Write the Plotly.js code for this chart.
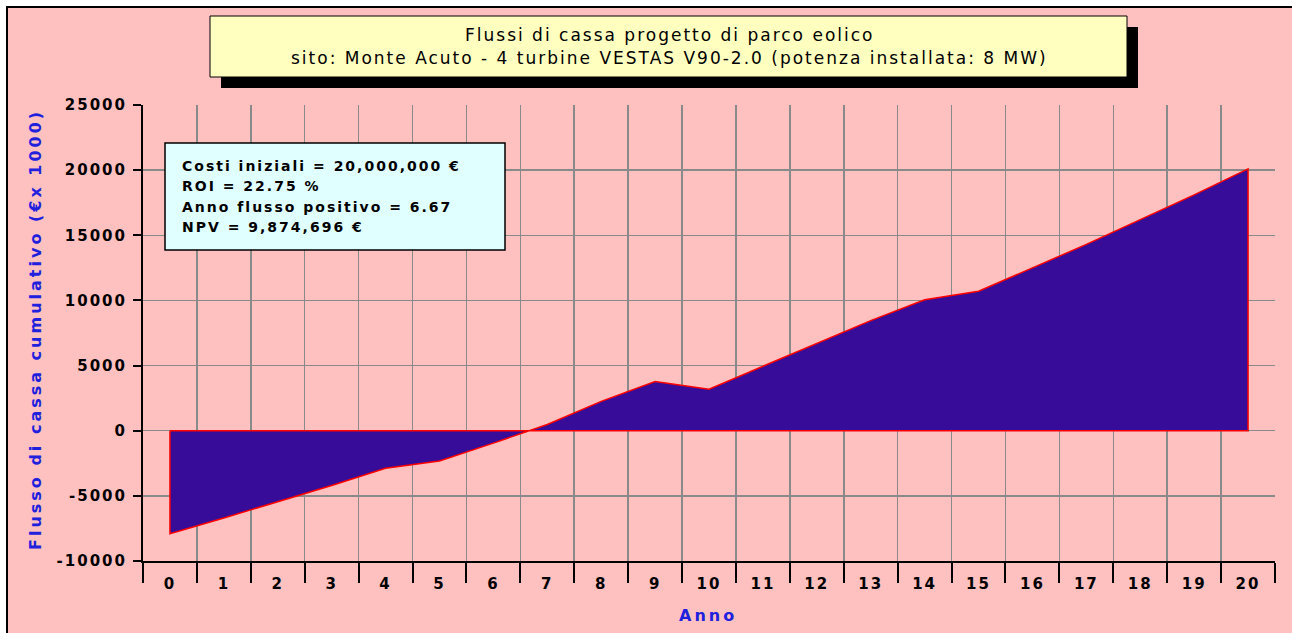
<!DOCTYPE html>
<html>
<head>
<meta charset="utf-8">
<script src="https://cdn.plot.ly/plotly-3.0.1.min.js"></script>
<style>
  html, body { margin: 0; padding: 0; background: #ffffff; }
  #chart { width: 1292px; height: 633px; }
  .xtick text, .ytick text { letter-spacing: 2px; }
  .annotation text { letter-spacing: 2px; }
  .annotation[data-index="0"] text, .annotation[data-index="1"] text { letter-spacing: 2px; }
  .annotation[data-index="6"] text, .annotation[data-index="7"] text { letter-spacing: 3px; }
</style>
</head>
<body>
<div id="chart"></div>
<script>
// ---- data ----
const years = [0, 1, 2, 3, 4, 5, 6, 7, 8, 9, 10, 11, 12, 13, 14, 15, 16, 17, 18, 19, 20];
const cumulativeCashFlow = [-7900, -6700, -5480, -4200, -2880, -2320, -950, 480, 2250, 3780, 3190,
                            4950, 6700, 8450, 10050, 10700, 12500, 14300, 16200, 18100, 20100];
const yTickValues = [-10000, -5000, 0, 5000, 10000, 15000, 20000, 25000];
const xTickLabels = years.map(String);
const titleLines = ["Flussi di cassa progetto di parco eolico",
                    "sito: Monte Acuto - 4 turbine VESTAS V90-2.0 (potenza installata: 8 MW)"];
const infoLines = ["Costi iniziali = 20,000,000 €", "ROI = 22.75 %",
                   "Anno flusso positivo = 6.67", "NPV = 9,874,696 €"];
const xTitle = "Anno";
const yTitle = "Flusso di cassa cumulativo (€x 1000)";

// ---- geometry helpers (pixel -> paper) ----
const W = 1292, H = 633, L = 143, R = 17, T = 105, B = 72;
const pw = W - L - R, ph = H - T - B;
const px = p => (p - L) / pw;
const py = p => (H - B - p) / ph;

const FONT = "DejaVu Sans, Verdana, sans-serif";
const BLUE = "#2020dd";
const GRID = "#8a8a8a";

// polygon closing the area to zero (Excel area chart outline)
const polyX = [years[0]].concat(years, [years[years.length - 1], years[0]]);
const polyY = [0].concat(cumulativeCashFlow, [0, 0]);

const trace = {
  type: "scatter",
  mode: "lines",
  x: polyX,
  y: polyY,
  fill: "toself",
  fillcolor: "#360c98",
  line: { color: "#ff0000", width: 1.5 },
  hoverinfo: "skip",
  showlegend: false
};

const boundaries = years.map(v => v - 0.5).concat([years[years.length - 1] + 0.5]);

const infoY = [165.5, 186, 206.5, 227];

const layout = {
  width: W, height: H,
  autosize: false,
  margin: { l: L, r: R, t: T, b: B, pad: 0 },
  paper_bgcolor: "#ffc0c0",
  plot_bgcolor: "#ffc0c0",
  showlegend: false,
  font: { family: FONT, color: "#000" },
  xaxis: {
    range: [-0.5, 20.5],
    tickmode: "array",
    tickvals: years,
    ticktext: xTickLabels,
    ticks: "outside",
    ticklen: 8,
    tickcolor: "rgba(0,0,0,0)",
    showgrid: false,
    zeroline: false,
    showline: true,
    linecolor: "#000",
    linewidth: 2,
    tickfont: { family: FONT, size: 15, color: "#000", weight: "bold" },
    minor: {
      tickmode: "array",
      tickvals: boundaries,
      ticks: "outside",
      ticklen: 20,
      tickwidth: 2,
      tickcolor: "#000",
      showgrid: true,
      gridcolor: GRID,
      gridwidth: 1.5
    },
    fixedrange: true
  },
  yaxis: {
    range: [-10000, 25000],
    tickmode: "array",
    tickvals: yTickValues,
    ticktext: yTickValues.map(String),
    ticks: "outside",
    ticklen: 8,
    tickwidth: 2,
    tickcolor: "#000",
    showgrid: true,
    gridcolor: GRID,
    gridwidth: 1.5,
    zeroline: false,
    showline: true,
    linecolor: "#000",
    linewidth: 2,
    tickfont: { family: FONT, size: 15, color: "#000", weight: "bold" },
    ticklabelstandoff: 3,
    fixedrange: true
  },
  shapes: [
    // white outer strips and black frame (top/left)
    { type: "rect", xref: "paper", yref: "paper", x0: px(0), x1: px(6), y0: py(0), y1: py(H),
      fillcolor: "#ffffff", line: { width: 0 }, layer: "above" },
    { type: "rect", xref: "paper", yref: "paper", x0: px(0), x1: px(W), y0: py(0), y1: py(6),
      fillcolor: "#ffffff", line: { width: 0 }, layer: "above" },
    { type: "line", xref: "paper", yref: "paper", x0: px(7), x1: px(7), y0: py(6), y1: py(H),
      line: { color: "#000", width: 2 }, layer: "above" },
    { type: "line", xref: "paper", yref: "paper", x0: px(6), x1: px(W), y0: py(7), y1: py(7),
      line: { color: "#000", width: 2 }, layer: "above" },
    // title shadow + box
    { type: "rect", xref: "paper", yref: "paper", x0: px(221), x1: px(1138), y0: py(88), y1: py(27),
      fillcolor: "#000", line: { width: 0 }, layer: "above" },
    { type: "rect", xref: "paper", yref: "paper", x0: px(210), x1: px(1127), y0: py(77), y1: py(16),
      fillcolor: "#ffffc0", line: { color: "#000", width: 1 }, layer: "above" },
    // info box
    { type: "rect", xref: "paper", yref: "paper", x0: px(165), x1: px(505), y0: py(250), y1: py(143),
      fillcolor: "#e0ffff", line: { color: "#000", width: 1.5 }, layer: "above" }
  ],
  annotations: [
    { xref: "paper", yref: "paper", x: px(669), y: py(34.5), xanchor: "center", yanchor: "middle",
      text: titleLines[0], showarrow: false, font: { family: FONT, size: 17, color: "#000" } },
    { xref: "paper", yref: "paper", x: px(669), y: py(58), xanchor: "center", yanchor: "middle",
      text: titleLines[1], showarrow: false, font: { family: FONT, size: 17, color: "#000" } }
  ].concat(infoLines.map((t, i) => ({
      xref: "paper", yref: "paper", x: px(180), y: py(infoY[i]), xanchor: "left", yanchor: "middle",
      align: "left", text: t, showarrow: false,
      font: { family: FONT, size: 14, color: "#000", weight: "bold" }
  }))).concat([
    { xref: "paper", yref: "paper", x: px(708), y: py(615), xanchor: "center", yanchor: "middle",
      text: xTitle, showarrow: false, font: { family: FONT, size: 16, color: BLUE, weight: "bold" } },
    { xref: "paper", yref: "paper", x: px(35), y: py(330), xanchor: "center", yanchor: "middle",
      textangle: -90, text: yTitle, showarrow: false,
      font: { family: FONT, size: 16, color: BLUE, weight: "bold" } }
  ])
};

Plotly.newPlot("chart", [trace], layout, { displayModeBar: false, staticPlot: true });
</script>
</body>
</html>
